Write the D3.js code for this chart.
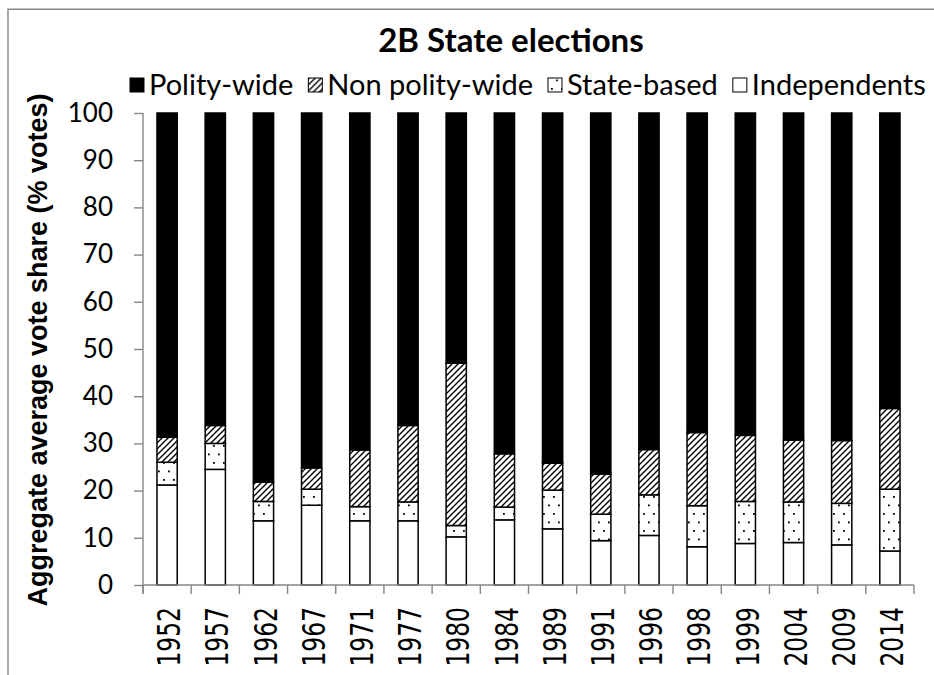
<!DOCTYPE html>
<html>
<head>
<meta charset="utf-8">
<script src="https://cdn.jsdelivr.net/npm/d3@7"></script>
<style>
  body { margin: 0; background: #fff; }
  svg { display: block; }
</style>
</head>
<body>
<div id="area"></div>
<script>
// data (segment sizes, % votes)
let years = ['1952','1957','1962','1967','1971','1977','1980','1984','1989','1991','1996','1998','1999','2004','2009','2014']
let independents = [21.2, 24.5, 13.6, 16.9, 13.6, 13.6, 10.2, 13.8, 11.9, 9.4, 10.5, 8.1, 8.8, 9.0, 8.5, 7.2]
let stateBased = [4.8, 5.5, 4.1, 3.4, 3.0, 4.0, 2.4, 2.7, 8.2, 5.6, 8.6, 8.7, 8.9, 8.6, 8.8, 13.1]
let nonPolityWide = [5.3, 3.8, 4.1, 4.5, 12.0, 16.2, 34.4, 11.3, 5.7, 8.5, 9.6, 15.5, 14.0, 13.1, 13.3, 17.1]
let polityWide = [68.7, 66.2, 78.2, 75.2, 71.4, 66.2, 53.0, 72.2, 74.2, 76.5, 71.3, 67.7, 68.3, 69.3, 69.4, 62.6]
let yTicks = [0, 10, 20, 30, 40, 50, 60, 70, 80, 90, 100]
let seriesKeys = ['independents', 'stateBased', 'nonPolityWide', 'polityWide']
let legendLabels = ['Polity-wide', 'Non polity-wide', 'State-based', 'Independents']
let legendKeys = ['polityWide', 'nonPolityWide', 'stateBased', 'independents']

let width = 934
let height = 675
let axis_color = '#868686'
let label_font = 'Lato, "Open Sans", sans-serif'

let rows = years.map(function(yr, i) {
  return {
    year: yr,
    independents: independents[i],
    stateBased: stateBased[i],
    nonPolityWide: nonPolityWide[i],
    polityWide: polityWide[i]
  }
})

let fills = {
  polityWide: '#000',
  nonPolityWide: 'url(#hatch)',
  stateBased: 'url(#dots)',
  independents: '#fff'
}

let svg = d3.select('#area').append('svg')
  .attr('width', width)
  .attr('height', height)

// patterns
let defs = svg.append('defs')
let hatch = defs.append('pattern')
  .attr('id', 'hatch')
  .attr('patternUnits', 'userSpaceOnUse')
  .attr('width', 6).attr('height', 6)
hatch.append('rect').attr('width', 6).attr('height', 6).attr('fill', '#fff')
hatch.append('path')
  .attr('d', 'M0,6 L6,0 M-1,1 L1,-1 M5,7 L7,5')
  .attr('stroke', '#000')
  .attr('stroke-width', 1.4)

let dots = defs.append('pattern')
  .attr('id', 'dots')
  .attr('patternUnits', 'userSpaceOnUse')
  .attr('width', 10).attr('height', 17)
dots.append('rect').attr('width', 10).attr('height', 17).attr('fill', '#fff')
dots.append('rect').attr('x', 3).attr('y', 3).attr('width', 1.8).attr('height', 1.8).attr('fill', '#000')
dots.append('rect').attr('x', 8).attr('y', 11.5).attr('width', 1.8).attr('height', 1.8).attr('fill', '#000')

// outer frame (runs off the right and bottom edges)
svg.append('path')
  .attr('d', 'M8,' + height + ' V9.3 H' + width)
  .attr('fill', 'none')
  .attr('stroke', axis_color)
  .attr('stroke-width', 1.4)

let x = d3.scaleBand()
  .domain(years)
  .range([143, 914])
  .paddingInner(0.58)
  .paddingOuter(0.29)

let y = d3.scaleLinear()
  .domain([0, 100])
  .range([585, 113])

// title
svg.append('text')
  .attr('x', 511)
  .attr('y', 52)
  .attr('text-anchor', 'middle')
  .attr('font-family', label_font)
  .attr('font-weight', 'bold')
  .attr('font-size', '33px')
  .text('2B State elections')

// bars
let stack = d3.stack().keys(seriesKeys)(rows)
let layers = svg.append('g').selectAll('g')
  .data(stack)
  .join('g')
  .attr('fill', function(d) { return fills[d.key] })

layers.selectAll('rect')
  .data(function(d) { return d })
  .join('rect')
  .attr('x', function(d) { return x(d.data.year) })
  .attr('width', x.bandwidth())
  .attr('y', function(d) { return y(d[1]) })
  .attr('height', function(d) { return y(d[0]) - y(d[1]) })
  .attr('stroke', '#000')
  .attr('stroke-width', 1.5)

// y axis
let yAxis = svg.append('g')
  .attr('transform', 'translate(' + x.range()[0] + ',0)')
  .call(d3.axisLeft(y).tickValues(yTicks).tickSize(9).tickSizeOuter(0).tickPadding(21))
yAxis.select('.domain').remove()
yAxis.selectAll('.tick line').attr('stroke', axis_color).attr('stroke-width', 1.4)
yAxis.selectAll('.tick text')
  .attr('font-family', label_font)
  .attr('font-size', '26px')
  .attr('fill', '#000')
yAxis.append('line')
  .attr('y1', y(100)).attr('y2', y(0) + 9)
  .attr('stroke', axis_color).attr('stroke-width', 1.4)

// x axis: line, boundary ticks, rotated labels
let xAxis = svg.append('g')
xAxis.append('line')
  .attr('x1', x.range()[0]).attr('x2', x.range()[1])
  .attr('y1', y(0)).attr('y2', y(0))
  .attr('stroke', axis_color).attr('stroke-width', 1.4)
xAxis.selectAll('line.tk')
  .data(d3.range(years.length + 1))
  .join('line')
  .attr('class', 'tk')
  .attr('x1', function(i) { return x.range()[0] + i * x.step() })
  .attr('x2', function(i) { return x.range()[0] + i * x.step() })
  .attr('y1', y(0)).attr('y2', y(0) + 9)
  .attr('stroke', axis_color).attr('stroke-width', 1.4)
xAxis.selectAll('text')
  .data(years)
  .join('text')
  .attr('transform', function(d) {
    return 'translate(' + (x(d) + x.bandwidth() / 2 + 1.5) + ',' + (y(0) + 22) + ') rotate(-90) scale(1,1.25)'
  })
  .attr('text-anchor', 'end')
  .attr('dy', '0.36em')
  .attr('font-family', '"DejaVu Sans Condensed", "DejaVu Sans", sans-serif')
  .attr('font-size', '26px')
  .text(function(d) { return d })

// y axis title
svg.append('text')
  .attr('transform', 'translate(47,350) rotate(-90)')
  .attr('text-anchor', 'middle')
  .attr('font-family', '"Liberation Sans", Arial, sans-serif')
  .attr('font-weight', 'bold')
  .attr('font-size', '27px')
  .text('Aggregate average vote share (% votes)')

// legend
let legend = svg.append('g').attr('transform', 'translate(130,85)')
let lx = 0
legendKeys.forEach(function(k, i) {
  let item = legend.append('g').attr('transform', 'translate(' + lx + ',0)')
  item.append('rect')
    .attr('x', 0).attr('y', -7)
    .attr('width', 14).attr('height', 14)
    .attr('fill', fills[k])
    .attr('stroke', '#000')
    .attr('stroke-width', 1)
  let t = item.append('text')
    .attr('x', 19)
    .attr('dy', '0.35em')
    .attr('font-family', label_font)
    .attr('font-size', '29px')
    .text(legendLabels[i])
  lx += 19 + t.node().getComputedTextLength() + 15
})
</script>
</body>
</html>
